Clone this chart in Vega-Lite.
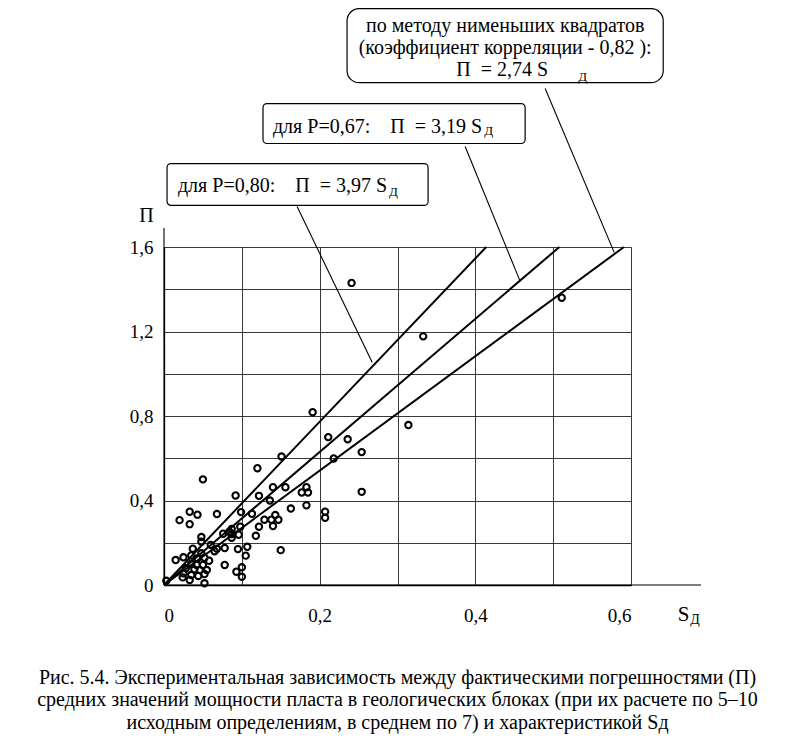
{
  "$schema": "https://vega.github.io/schema/vega-lite/v6.json",
  "autosize": "none",
  "width": 467,
  "height": 338,
  "padding": {"left": 164, "top": 247, "right": 161, "bottom": 154},
  "background": "white",
  "config": {"view": {"stroke": null}, "font": "Liberation Serif, serif"},
  "title": {
    "text": [
      "Рис. 5.4. Экспериментальная зависимость между фактическими погрешностями (П)",
      "средних значений мощности пласта в геологических блоках (при их расчете по 5–10",
      "исходным определениям, в среднем по 7) и характеристикой Sд"
    ],
    "orient": "bottom",
    "anchor": "middle",
    "frame": "group",
    "font": "Liberation Serif, serif",
    "fontSize": 20,
    "fontWeight": "normal",
    "lineHeight": 22.5,
    "offset": 41,
    "color": "black"
  },
  "datasets": {
    "points": [
      {"s": 0.241, "p": 1.43}, {"s": 0.333, "p": 1.177}, {"s": 0.511, "p": 1.36}, {"s": 0.191, "p": 0.818},
      {"s": 0.314, "p": 0.757}, {"s": 0.211, "p": 0.70}, {"s": 0.236, "p": 0.69}, {"s": 0.254, "p": 0.629},
      {"s": 0.151, "p": 0.608}, {"s": 0.218, "p": 0.599}, {"s": 0.120, "p": 0.553}, {"s": 0.050, "p": 0.50},
      {"s": 0.254, "p": 0.441}, {"s": 0.140, "p": 0.463}, {"s": 0.156, "p": 0.463}, {"s": 0.183, "p": 0.463},
      {"s": 0.177, "p": 0.438}, {"s": 0.185, "p": 0.438}, {"s": 0.092, "p": 0.424}, {"s": 0.122, "p": 0.422},
      {"s": 0.136, "p": 0.40}, {"s": 0.183, "p": 0.377}, {"s": 0.163, "p": 0.362}, {"s": 0.099, "p": 0.345},
      {"s": 0.113, "p": 0.337}, {"s": 0.207, "p": 0.347}, {"s": 0.207, "p": 0.318}, {"s": 0.143, "p": 0.331},
      {"s": 0.129, "p": 0.309}, {"s": 0.138, "p": 0.309}, {"s": 0.147, "p": 0.309}, {"s": 0.140, "p": 0.279},
      {"s": 0.122, "p": 0.276}, {"s": 0.098, "p": 0.276}, {"s": 0.118, "p": 0.233}, {"s": 0.096, "p": 0.238},
      {"s": 0.087, "p": 0.241}, {"s": 0.087, "p": 0.265}, {"s": 0.087, "p": 0.224}, {"s": 0.150, "p": 0.165},
      {"s": 0.095, "p": 0.170}, {"s": 0.107, "p": 0.181}, {"s": 0.105, "p": 0.139}, {"s": 0.093, "p": 0.063},
      {"s": 0.100, "p": 0.084}, {"s": 0.100, "p": 0.039}, {"s": 0.033, "p": 0.347}, {"s": 0.043, "p": 0.333},
      {"s": 0.068, "p": 0.336}, {"s": 0.020, "p": 0.307}, {"s": 0.033, "p": 0.288}, {"s": 0.048, "p": 0.227},
      {"s": 0.048, "p": 0.205}, {"s": 0.076, "p": 0.243}, {"s": 0.084, "p": 0.252}, {"s": 0.037, "p": 0.172},
      {"s": 0.068, "p": 0.172}, {"s": 0.078, "p": 0.175}, {"s": 0.048, "p": 0.15}, {"s": 0.015, "p": 0.118},
      {"s": 0.025, "p": 0.131}, {"s": 0.035, "p": 0.14}, {"s": 0.043, "p": 0.126}, {"s": 0.052, "p": 0.129},
      {"s": 0.058, "p": 0.115}, {"s": 0.035, "p": 0.099}, {"s": 0.042, "p": 0.095}, {"s": 0.050, "p": 0.095},
      {"s": 0.028, "p": 0.079}, {"s": 0.039, "p": 0.074}, {"s": 0.046, "p": 0.071}, {"s": 0.055, "p": 0.071},
      {"s": 0.078, "p": 0.095}, {"s": 0.025, "p": 0.055}, {"s": 0.035, "p": 0.047}, {"s": 0.044, "p": 0.043},
      {"s": 0.052, "p": 0.052}, {"s": 0.024, "p": 0.036}, {"s": 0.033, "p": 0.024}, {"s": 0.052, "p": 0.008},
      {"s": 0.003, "p": 0.02}, {"s": 0.065, "p": 0.16}, {"s": 0.060, "p": 0.19}
    ],
    "fits": [
      {"line": "P=0,80", "s": 0, "p": 0}, {"line": "P=0,80", "s": 0.414, "p": 1.6},
      {"line": "P=0,67", "s": 0, "p": 0}, {"line": "P=0,67", "s": 0.508, "p": 1.6},
      {"line": "МНК", "s": 0, "p": 0}, {"line": "МНК", "s": 0.591, "p": 1.6}
    ],
    "leaders": [
      {"id": "МНК", "s": 0.4897, "p": 2.350}, {"id": "МНК", "s": 0.5784, "p": 1.5745},
      {"id": "P=0,67", "s": 0.3869, "p": 2.0757}, {"id": "P=0,67", "s": 0.4576, "p": 1.4374},
      {"id": "P=0,80", "s": 0.1710, "p": 1.7920}, {"id": "P=0,80", "s": 0.2674, "p": 1.0544},
      {"id": "ось П", "s": 0.0001, "p": 0.0}, {"id": "ось П", "s": 0.0, "p": 1.69},
      {"id": "ось S", "s": 0.0, "p": 0.0001}, {"id": "ось S", "s": 0.69, "p": 0.0}
    ],
    "boxes": [
      {"id": "МНК", "s1": 0.2352, "s2": 0.6414, "p1": 2.378, "p2": 2.728},
      {"id": "P=0,67", "s1": 0.1272, "s2": 0.4640, "p1": 2.090, "p2": 2.279},
      {"id": "P=0,80", "s1": 0.0039, "s2": 0.3393, "p1": 1.797, "p2": 1.995}
    ],
    "centerText": [
      {"s": 0.4383, "p": 2.648, "text": "по методу нименьших квадратов"},
      {"s": 0.4383, "p": 2.544, "text": "(коэффициент корреляции - 0,82 ):"}
    ],
    "mainText": [
      {"s": 0.4936, "p": 2.440, "text": "П\u00a0 = 2,74 S"},
      {"s": 0.4087, "p": 2.170, "text": "для Р=0,67:\u00a0\u00a0\u00a0 П\u00a0 = 3,19 S"},
      {"s": 0.2866, "p": 1.8865, "text": "для Р=0,80:\u00a0\u00a0\u00a0 П\u00a0 = 3,97 S"}
    ],
    "subText": [
      {"s": 0.5321, "p": 2.405, "text": "Д"},
      {"s": 0.4113, "p": 2.147, "text": "Д"},
      {"s": 0.2892, "p": 1.862, "text": "Д"}
    ]
  },
  "layer": [
    {
      "data": {"name": "points"},
      "mark": {"type": "point", "filled": false, "color": "black", "size": 40, "strokeWidth": 2.1, "opacity": 1},
      "encoding": {
        "x": {
          "field": "s", "type": "quantitative",
          "scale": {"domain": [0, 0.6], "nice": false, "zero": true},
          "axis": {
            "values": [0, 0.1, 0.2, 0.3, 0.4, 0.5, 0.6],
            "labelExpr": "round(datum.value*10) % 2 == 0 ? (datum.value == 0 ? '0' : replace(format(datum.value, '.1f'), '.', ',')) : ''",
            "grid": true, "gridColor": "#222", "gridWidth": 0.9, "gridOpacity": 1,
            "ticks": false, "domainColor": "black", "domainWidth": 1.3,
            "labelFontSize": 19, "labelColor": "black", "labelPadding": 21,
            "title": "S", "titleFontSize": 21, "titleFontWeight": "normal",
            "titleColor": "black", "titleX": 519, "titleY": 29, "titleAlign": "center", "titleBaseline": "middle"
          }
        },
        "y": {
          "field": "p", "type": "quantitative",
          "scale": {"domain": [0, 1.6], "nice": false, "zero": true},
          "axis": {
            "values": [0, 0.2, 0.4, 0.6, 0.8, 1.0, 1.2, 1.4, 1.6],
            "labelExpr": "round(datum.value*10) % 4 == 0 ? (datum.value == 0 ? '0' : replace(format(datum.value, '.1f'), '.', ',')) : ''",
            "grid": true, "gridColor": "#222", "gridWidth": 0.9, "gridOpacity": 1,
            "ticks": false, "domainColor": "black", "domainWidth": 1.3,
            "labelFontSize": 19, "labelColor": "black", "labelPadding": 11,
            "title": "П", "titleFontSize": 20, "titleFontWeight": "normal",
            "titleColor": "black", "titleAngle": 0, "titleX": -18, "titleY": -32, "titleAlign": "center", "titleBaseline": "middle"
          }
        }
      }
    },
    {
      "data": {"name": "fits"},
      "mark": {"type": "line", "color": "black", "strokeWidth": 2},
      "encoding": {
        "x": {"field": "s", "type": "quantitative"},
        "y": {"field": "p", "type": "quantitative"},
        "detail": {"field": "line"}
      }
    },
    {
      "data": {"name": "leaders"},
      "mark": {"type": "line", "color": "black", "strokeWidth": 1.1},
      "encoding": {
        "x": {"field": "s", "type": "quantitative"},
        "y": {"field": "p", "type": "quantitative"},
        "detail": {"field": "id"}
      }
    },
    {
      "data": {"name": "boxes"},
      "transform": [{"filter": "datum.id == 'МНК'"}],
      "mark": {"type": "rect", "fill": "white", "stroke": "black", "strokeWidth": 1.2, "cornerRadius": 12},
      "encoding": {
        "x": {"field": "s1", "type": "quantitative"}, "x2": {"field": "s2"},
        "y": {"field": "p1", "type": "quantitative"}, "y2": {"field": "p2"}
      }
    },
    {
      "data": {"name": "boxes"},
      "transform": [{"filter": "datum.id != 'МНК'"}],
      "mark": {"type": "rect", "fill": "white", "stroke": "black", "strokeWidth": 1.2, "cornerRadius": 4},
      "encoding": {
        "x": {"field": "s1", "type": "quantitative"}, "x2": {"field": "s2"},
        "y": {"field": "p1", "type": "quantitative"}, "y2": {"field": "p2"}
      }
    },
    {
      "data": {"name": "centerText"},
      "mark": {"type": "text", "fontSize": 20, "color": "black", "align": "center", "baseline": "middle"},
      "encoding": {
        "x": {"field": "s", "type": "quantitative"}, "y": {"field": "p", "type": "quantitative"},
        "text": {"field": "text"}
      }
    },
    {
      "data": {"name": "mainText"},
      "mark": {"type": "text", "fontSize": 20, "color": "black", "align": "right", "baseline": "middle"},
      "encoding": {
        "x": {"field": "s", "type": "quantitative"}, "y": {"field": "p", "type": "quantitative"},
        "text": {"field": "text"}
      }
    },
    {
      "data": {"name": "subText"},
      "mark": {"type": "text", "fontSize": 13, "color": "black", "align": "left", "baseline": "middle"},
      "encoding": {
        "x": {"field": "s", "type": "quantitative"}, "y": {"field": "p", "type": "quantitative"},
        "text": {"field": "text"}
      }
    },
    {
      "data": {"values": [{}]},
      "mark": {"type": "text", "text": "Д", "fontSize": 14, "color": "black", "align": "left", "baseline": "middle"},
      "encoding": {"x": {"datum": 0.676}, "y": {"datum": -0.165}}
    }
  ]
}
